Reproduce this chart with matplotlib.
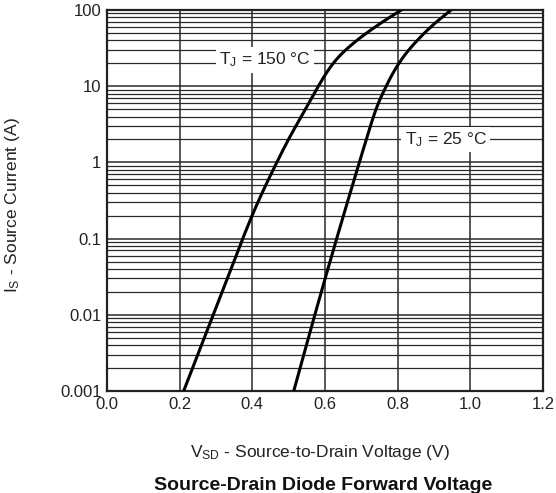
import numpy as np
import matplotlib
matplotlib.use("Agg")
import matplotlib.pyplot as plt
from matplotlib.ticker import FixedLocator, LogLocator, NullFormatter, FixedFormatter

# ---- data ----
v_150 = [0.211, 0.25, 0.29, 0.33, 0.37, 0.40, 0.43, 0.47, 0.50, 0.54,
         0.58, 0.60, 0.62, 0.64, 0.66, 0.68, 0.70, 0.75, 0.81]
i_150 = [0.001, 0.00302, 0.00938, 0.0291, 0.0904, 0.204, 0.427, 1.06, 2.02, 4.43,
         9.68, 14.0, 19.2, 24.9, 30.8, 37.2, 44.3, 65.5, 100.0]

v_25 = [0.514, 0.55, 0.60, 0.65, 0.70, 0.72, 0.73, 0.74, 0.75, 0.76,
        0.79, 0.82, 0.86, 0.90, 0.947]
i_25 = [0.001, 0.00421, 0.0295, 0.195, 1.22, 2.51, 3.56, 4.92, 6.49, 8.26,
        15.7, 25.8, 42.8, 65.3, 100.0]

x_ticks = [0.0, 0.2, 0.4, 0.6, 0.8, 1.0, 1.2]
x_tick_labels = ["0.0", "0.2", "0.4", "0.6", "0.8", "1.0", "1.2"]
y_ticks = [0.001, 0.01, 0.1, 1, 10, 100]
y_tick_labels = ["0.001", "0.01", "0.1", "1", "10", "100"]

label_150 = "T$_{\\mathrm{J}}$ = 150 °C"
label_25 = "T$_{\\mathrm{J}}$ = 25 °C"
x_title = "V$_{\\mathrm{SD}}$ - Source-to-Drain Voltage (V)"
y_title = "I$_{\\mathrm{S}}$ - Source Current (A)"
chart_title = "Source-Drain Diode Forward Voltage"


def smooth_curve(xv, yv, n=400):
    """Monotone cubic (PCHIP) through the read points, in log-current space,
    used only to render the curve smoothly."""
    x = np.asarray(xv, float)
    y = np.log10(np.asarray(yv, float))
    h = np.diff(x)
    d = np.diff(y) / h
    m = np.zeros_like(y)
    m[0], m[-1] = d[0], d[-1]
    for k in range(1, len(x) - 1):
        if d[k - 1] * d[k] > 0:
            w1 = 2 * h[k] + h[k - 1]
            w2 = h[k] + 2 * h[k - 1]
            m[k] = (w1 + w2) / (w1 / d[k - 1] + w2 / d[k])
    xs = np.linspace(x[0], x[-1], n)
    idx = np.clip(np.searchsorted(x, xs) - 1, 0, len(x) - 2)
    t = (xs - x[idx]) / h[idx]
    h00 = 2 * t**3 - 3 * t**2 + 1
    h10 = t**3 - 2 * t**2 + t
    h01 = -2 * t**3 + 3 * t**2
    h11 = t**3 - t**2
    ys = (h00 * y[idx] + h10 * h[idx] * m[idx]
          + h01 * y[idx + 1] + h11 * h[idx] * m[idx + 1])
    return xs, 10 ** ys


plt.rcParams["font.family"] = ["Liberation Sans", "DejaVu Sans"]
plt.rcParams["mathtext.fontset"] = "custom"
plt.rcParams["mathtext.rm"] = "Liberation Sans"
plt.rcParams["mathtext.it"] = "Liberation Sans"
plt.rcParams["mathtext.bf"] = "Liberation Sans:bold"

W, H = 556, 493
fig = plt.figure(figsize=(W / 100, H / 100), dpi=100)
ax = fig.add_axes([107 / W, 1 - 391 / H, 436 / W, 381 / H])

ax.set_yscale("log")
ax.set_xlim(0, 1.2)
ax.set_ylim(0.001, 100)

ax.xaxis.set_major_locator(FixedLocator(x_ticks))
ax.xaxis.set_major_formatter(FixedFormatter(x_tick_labels))
ax.yaxis.set_major_locator(FixedLocator(y_ticks))
ax.yaxis.set_major_formatter(FixedFormatter(y_tick_labels))
ax.yaxis.set_minor_locator(LogLocator(base=10, subs=range(2, 10), numticks=20))
ax.yaxis.set_minor_formatter(NullFormatter())

grid_c = "#2a2a2a"
ax.grid(True, which="major", axis="both", color=grid_c, lw=1.1, zorder=1)
ax.grid(True, which="minor", axis="y", color=grid_c, lw=0.9, zorder=1)
ax.set_axisbelow(True)

ax.tick_params(which="both", length=0, labelsize=12, colors="#222222", pad=4)
for s in ax.spines.values():
    s.set_linewidth(1.6)
    s.set_color("#222222")

for vv, ii in ((v_150, i_150), (v_25, i_25)):
    xs, ys = smooth_curve(vv, ii)
    ax.plot(xs, ys, color="black", lw=2.2, zorder=3, solid_joinstyle="round")

box = dict(facecolor="white", edgecolor="none", pad=2.5)
ax.text(0.435, 22.0, label_150, fontsize=12.5, ha="center", va="center",
        color="#222222", bbox=box, zorder=4)
ax.text(0.933, 2.0, label_25, fontsize=12.5, ha="center", va="center",
        color="#222222", bbox=box, zorder=4)

fig.text(320 / W, 1 - 453 / H, x_title, fontsize=12.5, ha="center", va="center",
         color="#222222")
fig.text(323 / W, 1 - 485 / H, chart_title, fontsize=14, fontweight="bold",
         ha="center", va="center", color="#111111")
fig.text(13 / W, 1 - 205 / H, y_title, fontsize=12.5, ha="center", va="center",
         rotation=90, color="#222222")

fig.savefig("out.png", dpi=100)
